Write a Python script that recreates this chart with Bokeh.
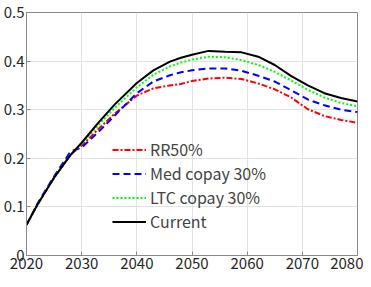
from bokeh.plotting import figure
from bokeh.models import Range1d, FixedTicker, Legend, LegendItem
from bokeh.embed import file_html
from bokeh.resources import INLINE

years = [2020, 2022, 2025, 2028, 2030, 2033, 2036, 2040, 2043, 2046, 2048, 2050,
         2053, 2056, 2059, 2062, 2065, 2068, 2071, 2074, 2077, 2080]
rr50 = [0.063, 0.105, 0.160, 0.208, 0.226, 0.260, 0.292, 0.329, 0.344, 0.350, 0.353, 0.359,
        0.364, 0.366, 0.363, 0.354, 0.342, 0.325, 0.301, 0.287, 0.279, 0.273]
med30 = [0.063, 0.107, 0.163, 0.214, 0.222, 0.254, 0.288, 0.334, 0.358, 0.371, 0.377, 0.381,
         0.385, 0.385, 0.380, 0.370, 0.358, 0.340, 0.321, 0.309, 0.300, 0.295]
ltc30 = [0.063, 0.105, 0.160, 0.207, 0.230, 0.268, 0.304, 0.346, 0.372, 0.389, 0.397, 0.403,
         0.409, 0.408, 0.402, 0.392, 0.378, 0.360, 0.341, 0.325, 0.314, 0.307]
current = [0.063, 0.105, 0.160, 0.207, 0.232, 0.273, 0.311, 0.355, 0.381, 0.399, 0.407, 0.413,
           0.421, 0.419, 0.418, 0.409, 0.392, 0.369, 0.350, 0.334, 0.324, 0.317]
labels = ["RR50%", "Med copay 30%", "LTC copay 30%", "Current"]
xticks = [2020, 2030, 2040, 2050, 2060, 2070, 2080]
yticks = [0, 0.1, 0.2, 0.3, 0.4, 0.5]
ytick_labels = ["0", "0.1", "0.2", "0.3", "0.4", "0.5"]

FONT = "Noto Sans CJK JP"

p = figure(width=363, height=277, output_backend="svg", toolbar_location=None,
           x_range=Range1d(2020, 2080), y_range=Range1d(0, 0.5),
           min_border_left=0, min_border_right=6, min_border_top=12, min_border_bottom=22)

p.outline_line_color = "#8a8a8a"
p.outline_line_width = 1
for ax in (p.xaxis[0], p.yaxis[0]):
    ax.axis_line_color = "#8a8a8a"
    ax.major_tick_in = 4
    ax.major_tick_out = 0
    ax.minor_tick_line_color = None
    ax.major_tick_line_color = "#8a8a8a"
    ax.major_label_text_font = FONT
    ax.major_label_text_font_size = "15px"
    ax.major_label_text_color = "#262626"
    ax.major_label_standoff = 2
p.xaxis.ticker = FixedTicker(ticks=xticks)
p.yaxis.ticker = FixedTicker(ticks=yticks)
p.yaxis.major_label_overrides = {t: l for t, l in zip(yticks, ytick_labels)}
p.xaxis.major_label_overrides = {t: str(t) for t in xticks}

p.xgrid.ticker = FixedTicker(ticks=xticks)
p.ygrid.ticker = FixedTicker(ticks=yticks)
p.grid.grid_line_color = "#e3e3e3"
p.grid.grid_line_width = 1

r1 = p.line(years, rr50, line_color="#ff0000", line_width=2, line_dash="6 2 2 2")
r2 = p.line(years, med30, line_color="#0000ff", line_width=2, line_dash="7 4")
r3 = p.line(years, ltc30, line_color="#00ff00", line_width=2, line_dash="2 2")
r4 = p.line(years, current, line_color="#000000", line_width=2)

legend = Legend(items=[LegendItem(label=l, renderers=[r]) for l, r in zip(labels, [r1, r2, r3, r4])],
                location=(86, 22), padding=0, margin=0, spacing=0,
                glyph_width=34, glyph_height=19, label_height=19, label_standoff=4,
                label_text_font=FONT, label_text_font_size="16px",
                border_line_color=None, background_fill_alpha=0)
p.add_layout(legend, "center")

open("out.html", "w").write(file_html(p, INLINE))
